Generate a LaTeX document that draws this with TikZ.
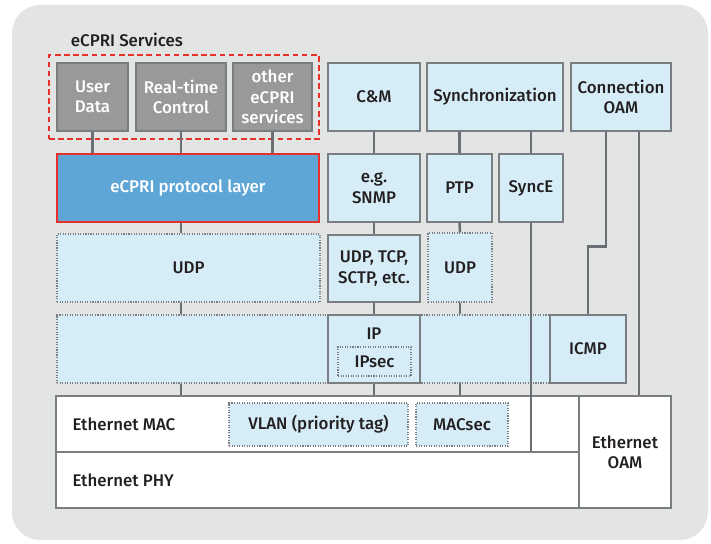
\documentclass[tikz,border=0pt]{standalone}
\usepackage{fontspec}
\setmainfont{Fira Sans}[UprightFont=* Medium]
\usetikzlibrary{positioning,calc}

\definecolor{bggray}{HTML}{E3E4E4}
\definecolor{boxblue}{HTML}{D6EDF8}
\definecolor{protoblue}{HTML}{5EA6D6}
\definecolor{svcgray}{HTML}{999999}
\definecolor{edgegray}{HTML}{7A7D82}
\definecolor{linkgray}{HTML}{6B6E73}
\definecolor{ecpred}{HTML}{E8312A}
\definecolor{txtdark}{HTML}{231F20}
\def\pxu{0.025cm}

\begin{document}
\begin{tikzpicture}[x=\pxu,y=-\pxu]
\tikzset{every node/.style={font=\fontsize{12}{14.5}\selectfont, text=txtdark},
  sz/.style 2 args={minimum width=#1*\pxu, minimum height=#2*\pxu},
  blk/.style={draw=edgegray, line width=0.8pt, fill=boxblue, inner sep=0pt, align=center},
  dotblk/.style={blk, densely dotted},
  svc/.style={blk, fill=svcgray, text=white},
  eth/.style={blk, fill=white},
  link/.style={draw=linkgray, line width=1.8pt}}
   \useasboundingbox (0,0) rectangle (711,544);
   \fill[bggray, rounded corners=20] (12,5) rectangle (708,540);

   % eCPRI services
   \node[anchor=west] (svctitle) at (66,40) {eCPRI Services};
   \node[svc, sz={71}{68}] (user) at (92.5,97) {User\\Data};
   \node[svc, sz={90}{68}] (rtc) at (181,97) {Real-time\\Control};
   \node[svc, sz={79}{68}] (other) at (272.5,97) {other\\eCPRI\\services};
   \node[draw=ecpred, line width=1.6pt, dash pattern=on 4pt off 2.5pt, sz={270}{84}] (svcframe) at (184,97) {};

   \node[blk, sz={262}{68}, fill=protoblue, draw=ecpred, line width=1.5pt, text=white] (proto) at (188,188) {eCPRI protocol layer};
   \node[dotblk, sz={263}{68}] (udp) at (188.5,268) {UDP};

   % management and sync
   \node[blk, sz={92}{68}] (cm) at (374,97) {C\&M};
   \node[blk, sz={136}{68}] (sync) at (495,97) {Synchronization};
   \node[blk, sz={100}{68}] (coam) at (621,97) {Connection\\OAM};
   \node[blk, sz={92}{68}] (snmp) at (374,188) {e.g.\\SNMP};
   \node[blk, sz={65}{68}] (ptp) at (459.5,188) {PTP};
   \node[blk, sz={64}{68}] (synce) at (531,188) {SyncE};
   \node[blk, sz={92}{67}] (tcp) at (374,268.5) {UDP, TCP,\\SCTP, etc.};
   \node[dotblk, sz={64}{69}] (udps) at (460,267.5) {UDP};

   % IP layer
   \node[dotblk, sz={493}{68}] (iprow) at (303.5,349) {};
   \node[blk, sz={92}{68}, label={[anchor=north, inner sep=0pt, yshift=-0.33cm]north:IP}] (ip) at (374,349) {};
   \node[dotblk, sz={73}{29}] (ipsec) at (374.5,361.5) {IPsec};
   \node[blk, sz={76}{68}] (icmp) at (588,349) {ICMP};

   % Ethernet
   \node[eth, sz={523}{56}, label={[anchor=west, inner sep=0pt, xshift=0.42cm]west:Ethernet MAC}] (mac) at (317.5,424) {};
   \node[eth, sz={523}{56}, label={[anchor=west, inner sep=0pt, xshift=0.42cm]west:Ethernet PHY}] (phy) at (317.5,480) {};
   \node[eth, sz={92}{112}] (eoam) at (625,452) {Ethernet\\OAM};
   \node[dotblk, sz={179}{43}] (vlan) at (318.5,424.5) {VLAN (priority tag)};
   \node[dotblk, sz={92}{43}] (macsec) at (462,424.5) {MACsec};

   % connectors
   \draw[link] (user.south) -- (user.south |- proto.north);
   \draw[link] (rtc.south) -- (rtc.south |- proto.north);
   \draw[link] (other.south) -- (other.south |- proto.north);
   \draw[link] (rtc.south |- proto.south) -- (rtc.south |- udp.north);
   \draw[link] (rtc.south |- udp.south) -- (rtc.south |- iprow.north);
   \draw[link] (rtc.south |- iprow.south) -- (rtc.south |- mac.north);

   \draw[link] (cm.south) -- (snmp.north);
   \draw[link] (snmp.south) -- (tcp.north);
   \draw[link] (tcp.south) -- (ip.north);
   \draw[link] (ip.south) -- (ip.south |- mac.north);

   \draw[link] (sync.south -| ptp.north) -- (ptp.north);
   \draw[link] (ptp.south) -- (udps.north);
   \draw[link] (udps.south) -- (udps.south |- iprow.north);
   \draw[link] (udps.south |- iprow.south) -- (udps.south |- mac.north);
   \draw[link] (sync.south -| synce.north) -- (synce.north);
   \draw[link] (synce.south) -- (synce.south |- phy.north);

   \draw[link] ($(coam.south)+(-15,0)$) -- ++(0,115) -| (icmp.north);
   \coordinate (oamR) at ($(coam.south)+(18,0)$);
   \draw[link] (oamR) -- (oamR |- eoam.north);
\end{tikzpicture}
\end{document}
